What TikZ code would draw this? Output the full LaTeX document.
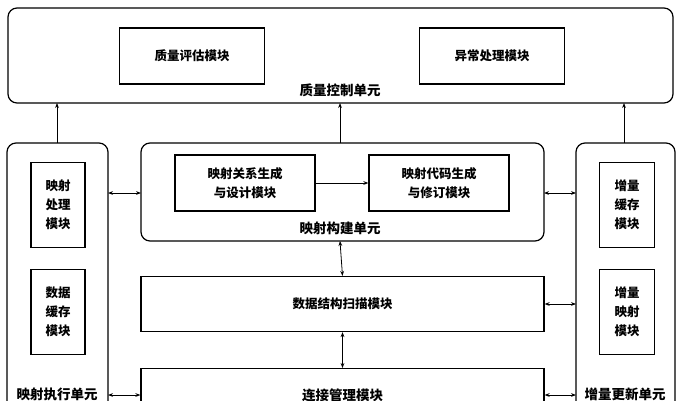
\documentclass[tikz,border=0pt]{standalone}
\usepackage{fontspec}
\newfontfamily\cjk{Noto Sans CJK SC}
\usetikzlibrary{arrows.meta,positioning}

\begin{document}
\begin{tikzpicture}
	[
		x=1pt, y=-1pt,
		U/.style = {draw, line width=1.2pt, rounded corners=9pt},
		M/.style = {draw, line width=1.2pt, align=center, font=\cjk\bfseries\fontsize{12.5}{19}\selectfont},
		L/.style = {font=\cjk\bfseries\fontsize{13.5}{16}\selectfont},
		A/.style = {line width=0.8pt, -{Stealth[length=5pt]}},
		B/.style = {line width=0.8pt, {Stealth[length=5pt]}-{Stealth[length=5pt]}},
	]
	\clip (0,0) rectangle (683,400);
	\useasboundingbox (0,0) rectangle (683,400);

	% units
	\draw[U] (8,8) rectangle (673,103);
	\draw[U] (7,143) rectangle (108,440);
	\draw[U] (141,143) rectangle (544,241);
	\draw[U] (576,143) rectangle (675,440);
	\node[L] (qc) at (340,90) {质量控制单元};
	\node[L] (mb) at (340,228) {映射构建单元};
	\node[L] (me) at (57,394) {映射执行单元};
	\node[L] (iu) at (625,394) {增量更新单元};

	% modules
	\node[M, minimum width=145pt, minimum height=56pt] (qe) at (192,56) {质量评估模块};
	\node[M, minimum width=145pt, minimum height=56pt] (ex) at (492,56) {异常处理模块};
	\node[M, minimum width=140pt, minimum height=56pt] (mr) at (245,183) {映射关系生成\\与设计模块};
	\node[M, minimum width=140pt, minimum height=56pt] (mc) at (439,183) {映射代码生成\\与修订模块};
	\node[M, minimum width=54pt, minimum height=85pt] (mp) at (58,205) {映射\\处理\\模块};
	\node[M, minimum width=54pt, minimum height=85pt] (dc) at (58,312) {数据\\缓存\\模块};
	\node[M, minimum width=55pt, minimum height=85pt] (ic) at (627,205) {增量\\缓存\\模块};
	\node[M, minimum width=55pt, minimum height=85pt] (im) at (627,312) {增量\\映射\\模块};
	\node[M, minimum width=403pt, minimum height=55pt] (ds) at (342.5,304) {数据结构扫描模块};
	\node[M, minimum width=403pt, minimum height=60pt, anchor=north] (cm) at (342.5,368) {};
	\node[L] (cml) at (342.5,395) {连接管理模块};

	% unit anchors
	\coordinate (qcb1) at (57,103);
	\coordinate (qcb2) at (340,103);
	\coordinate (qcb3) at (624,103);
	\coordinate (mel) at (57,143);
	\coordinate (mbt) at (340,143);
	\coordinate (iut) at (624,143);
	\coordinate (mbb) at (340,241);
	\coordinate (mer1) at (108,193);
	\coordinate (mbl) at (141,193);
	\coordinate (mbr) at (544,193);
	\coordinate (iul1) at (576,193);
	\coordinate (iul2) at (576,304);
	\coordinate (mer2) at (108,395);
	\coordinate (iul3) at (576,395);

	\foreach \from/\to in {mel/qcb1,mbt/qcb2,iut/qcb3,mr/mc}
	\draw[A] (\from) -- (\to);
	\foreach \from/\to in {mer1/mbl,mbr/iul1,ds.east/iul2,mbb/ds.north,ds.south/cm.north}
	\draw[B] (\from) -- (\to);
	\draw[B] (mer2) -- (cm.west |- mer2);
	\draw[B] (cm.east |- iul3) -- (iul3);

\end{tikzpicture}
\end{document}
